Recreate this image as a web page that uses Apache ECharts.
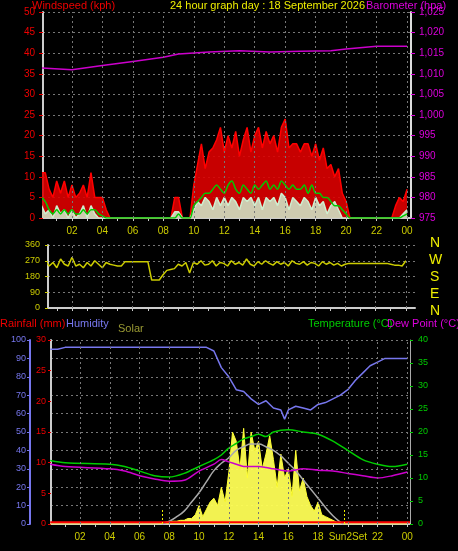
<!DOCTYPE html>
<html><head><meta charset="utf-8">
<script src="https://cdn.jsdelivr.net/npm/echarts@6/dist/echarts.min.js"></script>
<style>html,body{margin:0;background:#000}#c{width:458px;height:551px}</style>
</head><body><div id="c"></div>
<script>
// 15-minute samples, hours 0..24
const windGust = [11,11,7,5, 9,6,9,5, 8,5,6,8, 5,11,5,5, 5,2,0,0, 0,0,0,0, 0,0,0,0, 0,0,0,0, 0,0,0,5, 5,0,0,0,
  8,13,18,12, 16,17,19,22, 16,20,17,21, 15,19,22,16, 20,22,17,21, 18,20,16,22, 24,17,18,18, 16,18,18,15,
  18,14,17,12, 13,10,12,6, 4,0,0,0, 0,0,0,0, 0,0,0,0, 0,3,5,4, 7];
const windSpeed = [3,1,2,0, 3,1,2,0, 2,0,1,3, 0,3,1,0, 0,0,0,0, 0,0,0,0, 0,0,0,0, 0,0,0,0, 0,0,0,1.5, 1.5,0,0,0,
  2,4,3,5, 4,2,5,3, 5,3,5,4, 2,5,4,5, 3,5,2,5, 4,5,3,6, 5,2,5,4, 3,5,4,2,
  5,3,4,1, 3,4,2,0, 0,0,0,0, 0,0,0,0, 0,0,0,0, 0,0,0,1, 2];
const windAvg = [5,4,2,1, 2,1,2,1, 2,1,1,2, 1,2,2,1, 0.5,0,0,0, 0,0,0,0, 0,0,0,0, 0,0,0,0, 0,0,0,0, 1,0,0,0,
  3,4,5,6, 6,7,8,7, 6,8,9,7, 6,8,7,6, 8,7,8,9, 7,8,7,9, 8,7,8,7, 7,8,6,8,
  6,6,5,5, 4,3,3,2, 1,0,0,0, 0,0,0,0, 0,0,0,0, 0,0,0,0.5, 1];
const windDir = [250,270,240,260, 230,280,250,240, 290,240,250,230, 260,240,270,250, 230,260,250,245, 240,240,265,265,
  265,265,265,265, 265,160,160,160, 190,215,220,225, 250,240,260,200, 260,250,270,245, 250,270,240,260,
  255,240,270,250, 260,245,280,250, 240,265,250,270, 255,245,265,250, 260,240,270,255, 250,265,245,260,
  255,240,265,250, 260,245,255,240, 250,255,255,255, 255,255,255,255, 255,255,255,255, 250,245,245,240, 270];
const solar = [0,0,0,0, 0,0,0,0, 0,0,0,0, 0,0,0,0, 0,0,0,0, 0,0,0,0, 0,0,0,0, 0,0,0.5,1, 1,1.5,1.5,2,
  2,3,3,5, 10,4,8,12, 14,10,20,12, 28,50,45,30, 52,25,50,40, 45,30,38,48, 35,20,38,25, 30,15,40,18,
  25,15,10,7, 12,5,4,3, 2,1,0.5,0, 0,0,0,0, 0,0,0,0, 0,0,0,0, 0,0,0,0, 0];
const baroHours = [0,2,4,6,8,9,11,13,15,17,19,20,22,24];
const baro = [1011.4,1011,1012,1013,1014,1014.8,1015.3,1015.6,1015.3,1015.5,1015.6,1016,1016.7,1016.7];
const humHours = [0,0.5,1,10.5,11,11.5,12,12.5,13,13.5,14,14.5,15,15.5,15.75,16,16.5,17,17.5,18,18.5,19,19.5,20,20.5,21,21.5,22,22.5,23,24];
const humidity = [95,95,96,96,94,85,80,73,72,68,65,67,63,62,57,62,64,63,62,65,66,68,70,73,78,82,86,88,90,90,90];
const tHours = [0,1,4,5,6,7,8,9,10,11,11.5,12,12.5,13,13.5,14,14.5,15,16,17,18,19,20,21,22,23,24];
const temperature = [13.8,13.3,13,12.5,11.5,10.5,10.2,11,12.5,14,15,16.5,17.5,18.5,19,19.5,19,20,20.5,20,19.5,18,16,14,13,12.5,13];
const dewPoint = [13,12.5,12,11.5,10.5,9.8,9.3,9.5,11.5,13,14,13.5,13,12.5,12.5,12.5,12.3,12,11.5,12,11.7,11.5,11,10.5,10,10.5,11.3];
const solarMaxHours = [7.5,8,8.5,9,9.5,10,10.5,11,11.5,12,12.5,13,13.5,14,14.5,15,15.5,16,16.5,17,17.5,18,18.5,19,19.5,19.7];
const solarMax = [0,1.5,4,7,12,17,23,29,33,36,40,42,43.5,43.5,42,40,37,33,29,24,19,14,9,4.5,1,0];
const hourLabels = ['02','04','06','08','10','12','14','16','18','20','22','00'];
const bottomLabels = ['02','04','06','08','10','12','14','16','18','Sun2Set','22','00'];

const q = i => i * 0.25;
const pairs15 = arr => arr.map((v, i) => [q(i), v]);
const pairs = (h, arr) => arr.map((v, i) => [h[i], v]);
const evenH = [2,4,6,8,10,12,14,16,18,20,22,24];
const allH = Array.from({length: 24}, (_, i) => i + 1);
const gridV = (xi, yi) => ({type:'line', xAxisIndex:xi, yAxisIndex:yi, data:[], silent:true,
  markLine:{silent:true, symbol:'none', label:{show:false}, lineStyle:{color:'#777', type:[2,3], width:1},
  data: evenH.map(h => ({xAxis: h}))}});
const hsplit = {show:true, lineStyle:{color:'#777', type:[2,3]}};
const F = 'Liberation Sans';
const xax = (gi, min, max, labels, showLab) => ({type:'value', gridIndex:gi, min, max,
  axisLine:{lineStyle:{color:'#ccc', width:2}}, splitLine:{show:false},
  axisTick:{customValues: allH, length:3, lineStyle:{color:'#ccc'}},
  axisLabel:{show:showLab, customValues: evenH, color:'#cccc00', fontSize:10, fontFamily:F,
    formatter: v => labels[evenH.indexOf(Math.round(v))] || ''}});
const T = (x, y, s, c, sz) => ({type:'text', left:x, top:y, style:{text:s, fill:c, font:(sz||11)+'px Liberation Sans'}});
const chart = echarts.init(document.getElementById('c'));
chart.setOption({
  backgroundColor:'#000', animation:false,
  grid:[
    {left:43, top:12, width:368, height:206},
    {left:48, top:245, width:367, height:63},
    {left:51, top:340, width:359, height:184}
  ],
  xAxis:[
    xax(0, 0.1, 24.26, hourLabels, true),
    xax(1, 0.42, 24.6, hourLabels, false),
    xax(2, 0.05, 24.18, bottomLabels, true)
  ],
  yAxis:[
    {type:'value', gridIndex:0, min:0, max:50, interval:5, axisLine:{show:true, lineStyle:{color:'#ccc', width:2}},
     axisTick:{show:true, length:4, lineStyle:{color:'#e00'}}, axisLabel:{color:'#e00', fontSize:10, fontFamily:F}, splitLine:hsplit},
    {type:'value', gridIndex:0, min:975, max:1025, interval:5, position:'right', axisLine:{show:true, lineStyle:{color:'#ddd', width:2}},
     axisTick:{show:true, length:4, lineStyle:{color:'#d0d'}}, axisLabel:{color:'#d0d', fontSize:10, fontFamily:F}, splitLine:{show:false}},
    {type:'value', gridIndex:1, min:0, max:360, interval:90, axisLine:{show:true, lineStyle:{color:'#ccc', width:2}},
     axisTick:{show:true, length:3, lineStyle:{color:'#cc0'}}, axisLabel:{color:'#cccc00', fontSize:9, fontFamily:F}, splitLine:hsplit},
    {type:'value', gridIndex:2, min:0, max:100, interval:10, position:'left', offset:21, axisLine:{show:true, lineStyle:{color:'#7777ee', width:2}},
     axisTick:{show:true, length:3, lineStyle:{color:'#7777ee'}}, axisLabel:{color:'#7777ee', fontSize:9, fontFamily:F, margin:4}, splitLine:hsplit},
    {type:'value', gridIndex:2, min:0, max:30, interval:5, position:'left', offset:0, axisLine:{show:true, lineStyle:{color:'#ccc', width:2}},
     axisTick:{show:true, length:3, lineStyle:{color:'#e00'}}, axisLabel:{color:'#e00', fontSize:9, fontFamily:F, margin:5}, splitLine:{show:false}},
    {type:'value', gridIndex:2, min:0, max:40, interval:5, position:'right', axisLine:{show:true, lineStyle:{color:'#aaa', width:1}},
     axisTick:{show:true, length:3, lineStyle:{color:'#0c0'}}, axisLabel:{color:'#0c0', fontSize:9, fontFamily:F}, splitLine:{show:false}}
  ],
  series:[
    gridV(0,0), gridV(1,2), gridV(2,3),
    {type:'line', xAxisIndex:0, yAxisIndex:0, data:pairs15(windGust), symbol:'none',
     lineStyle:{color:'#f00', width:1.5}, areaStyle:{color:'#d00', opacity:0.9}},
    {type:'line', xAxisIndex:0, yAxisIndex:0, data:pairs15(windSpeed), symbol:'none',
     lineStyle:{color:'#cfeecf', width:1.5}, areaStyle:{color:'#cfeecf', opacity:0.85}},
    {type:'line', xAxisIndex:0, yAxisIndex:0, data:pairs15(windAvg), symbol:'none', smooth:0.3,
     lineStyle:{color:'#0c0', width:1.5}},
    {type:'line', xAxisIndex:0, yAxisIndex:1, data:pairs(baroHours, baro), symbol:'none',
     lineStyle:{color:'#c0c', width:1.5}},
    {type:'line', xAxisIndex:1, yAxisIndex:2, data:pairs15(windDir), symbol:'none',
     lineStyle:{color:'#cccc00', width:1.5}},
    {type:'line', xAxisIndex:2, yAxisIndex:3, data:pairs15(solar), symbol:'none',
     lineStyle:{color:'#ffff33', width:1}, areaStyle:{color:'#ffff55', opacity:0.95}},
    {type:'line', xAxisIndex:2, yAxisIndex:3, data:pairs(solarMaxHours, solarMax), symbol:'none', smooth:true,
     lineStyle:{color:'#aaa', width:1.5}},
    {type:'line', xAxisIndex:2, yAxisIndex:3, data:[], silent:true,
     markLine:{silent:true, symbol:'none', label:{show:false}, lineStyle:{color:'#ee0', type:[2,2], width:1},
       data:[[{coord:[7.5,0]},{coord:[7.5,8]}],[{coord:[19.75,0]},{coord:[19.75,8]}]]}},
    {type:'line', xAxisIndex:2, yAxisIndex:4, data:[[0,0.3],[24.18,0.3]], symbol:'none',
     lineStyle:{color:'#f00', width:2}},
    {type:'line', xAxisIndex:2, yAxisIndex:3, data:pairs(humHours, humidity), symbol:'none',
     lineStyle:{color:'#7777ee', width:1.5}},
    {type:'line', xAxisIndex:2, yAxisIndex:5, data:pairs(tHours, temperature), symbol:'none', smooth:0.3,
     lineStyle:{color:'#0c0', width:1.5}},
    {type:'line', xAxisIndex:2, yAxisIndex:5, data:pairs(tHours, dewPoint), symbol:'none', smooth:0.3,
     lineStyle:{color:'#c0c', width:1.5}}
  ],
  graphic:[
    T(32, 0, 'Windspeed (kph)', '#e00'),
    T(170, 0, '24 hour graph day : 18 September 2026', '#ee0'),
    T(366, 0, 'Barometer (hpa)', '#d0d'),
    T(0, 318, 'Rainfall (mm)', '#e00'),
    T(66, 318, 'Humidity', '#7777ee'),
    T(118, 323, 'Solar', '#999933'),
    T(308, 318, 'Temperature (°C)', '#0c0'),
    T(387, 318, 'Dew Point (°C)', '#d0d'),
    T(430, 236, 'N', '#ee0', 14), T(429, 253, 'W', '#ee0', 14), T(430, 270, 'S', '#ee0', 14),
    T(430, 287, 'E', '#ee0', 14), T(430, 304, 'N', '#ee0', 14)
  ]
});
</script></body></html>
